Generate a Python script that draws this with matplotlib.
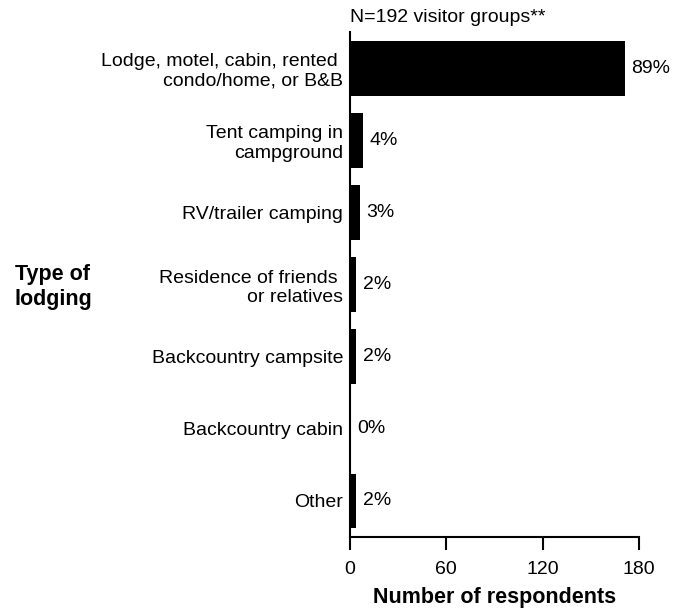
import matplotlib
matplotlib.use("Agg")
import matplotlib.pyplot as plt

plt.rcParams["font.family"] = ["Liberation Sans", "DejaVu Sans"]

categories = [
    "Lodge, motel, cabin, rented \ncondo/home, or B&B",
    "Tent camping in\ncampground",
    "RV/trailer camping",
    "Residence of friends \nor relatives",
    "Backcountry campsite",
    "Backcountry cabin",
    "Other",
]
counts = [171, 8, 6, 4, 4, 0, 4]
pct_labels = ["89%", "4%", "3%", "2%", "2%", "0%", "2%"]

fig = plt.figure(figsize=(6.79, 6.10), dpi=100)
ax = fig.add_axes([0.5155, 0.1197, 0.4256, 0.8278])

ypos = list(range(len(categories)))
ax.barh(ypos, counts, height=0.76, color="black")
ax.set_ylim(len(categories) - 0.5, -0.5)
ax.set_xlim(0, 180)
ax.set_xticks([0, 60, 120, 180])
ax.set_yticks(ypos)
ax.set_yticklabels(categories, fontsize=14)
ax.tick_params(axis="y", length=0, pad=5)
ax.tick_params(axis="x", length=9, width=1.5, labelsize=14, pad=8)
for s in ["top", "right"]:
    ax.spines[s].set_visible(False)
for s in ["left", "bottom"]:
    ax.spines[s].set_linewidth(1.5)

for y, c, lab in zip(ypos, counts, pct_labels):
    ax.annotate(lab, (c, y), xytext=(5, 0), textcoords="offset points",
                va="center", ha="left", fontsize=14)

ax.set_xlabel("Number of respondents", fontsize=15.5, fontweight="bold", labelpad=7)
fig.text(350 / 679, 1 - 18 / 610, "N=192 visitor groups**", fontsize=14,
         ha="left", va="center")
fig.text(15 / 679, 1 - 287 / 610, "Type of\nlodging", fontsize=15.5,
         fontweight="bold", ha="left", va="center")

fig.savefig("out.png", dpi=100)
